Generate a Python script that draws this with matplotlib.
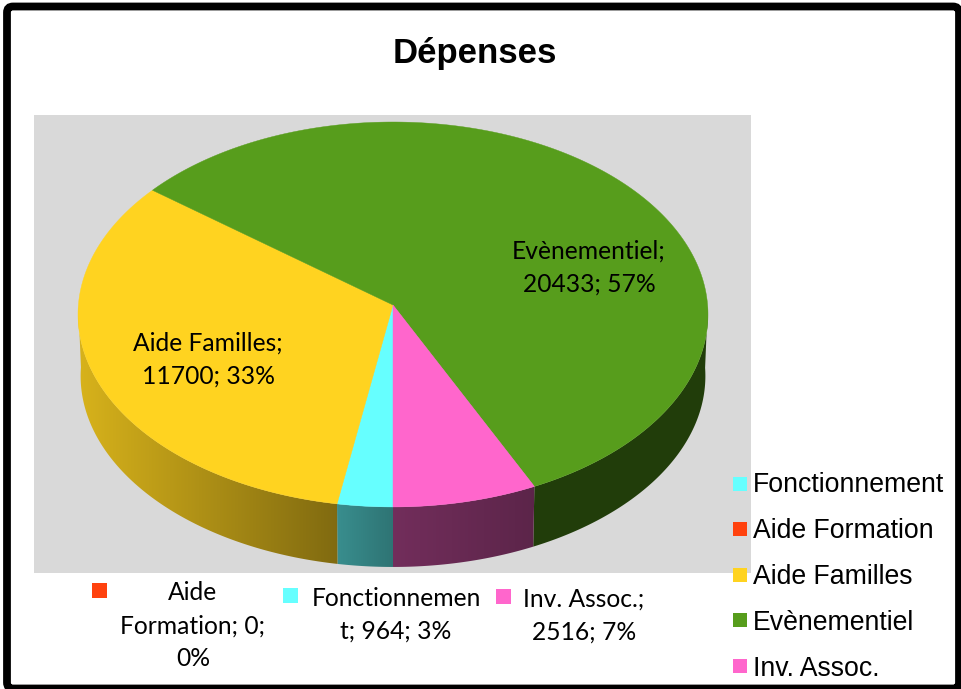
import numpy as np
import matplotlib
matplotlib.use("Agg")
import matplotlib.pyplot as plt
from matplotlib.patches import FancyBboxPatch, Rectangle, Polygon

categories = ["Fonctionnement", "Aide Formation", "Aide Familles", "Evènementiel", "Inv. Assoc."]
values = [964, 0, 11700, 20433, 2516]
colors = ["#66FFFF", "#FF420E", "#FFD320", "#579D1C", "#FF66CC"]
title = "Dépenses"

W, H = 961, 689
fig = plt.figure(figsize=(W / 100, H / 100), dpi=100)
ax = fig.add_axes([0, 0, 1, 1])

ax.add_patch(Rectangle((34, 115), 717, 458, fc="#D9D9D9", ec="none", zorder=0))
ax.add_patch(FancyBboxPatch((7, 6.5), 952, 682, boxstyle="round,pad=0,rounding_size=6",
                            fc="none", ec="black", lw=5.6, zorder=6))

# perspective projection of the pie (pixels)
KP = 0.0492
CX, CY = 393, 305


def top(t):
    d = 1 + KP * np.cos(t)
    return CX + 314.6 * np.sin(t) / d, CY - 192 * np.cos(t) / d


def bot(t):
    d = 1 + KP * np.cos(t)
    return CX + 312 * np.sin(t) / d, 366.6 - 190.5 * np.cos(t) / d


total = sum(values)
# slices run clockwise from 6 o'clock
angles = np.pi + 2 * np.pi * np.cumsum([0] + values) / total

# side-wall shade of each slice: factor at x start and x end
shade = {0: (0.56, 0.45), 2: (0.85, 0.50), 3: (0.39, 0.39), 4: (0.45, 0.36)}
shade_x = {0: (338, 393), 2: (78, 338), 3: (533, 708), 4: (393, 533)}

# side walls
for i, (a0, a1) in enumerate(zip(angles[:-1], angles[1:])):
    if a1 <= a0:
        continue
    ts = np.linspace(a0, a1, 400)
    m = np.mod(ts, 2 * np.pi)
    ts = ts[(m >= np.pi / 2) & (m <= 3 * np.pi / 2)]
    if len(ts) < 2:
        continue
    xt, yt = top(ts)
    xb, yb = bot(ts)
    outline = np.c_[np.r_[xt, xb[::-1]], np.r_[yt, yb[::-1]]]
    x0, x1 = shade_x[i]
    grad = np.linspace(shade[i][0], shade[i][1], 256)
    base = np.array(matplotlib.colors.to_rgb(colors[i]))
    img = (grad[:, None] * base)[None, :, :]
    im = ax.imshow(img, extent=(x0 - 3, x1 + 3, 580, 300), aspect="auto",
                   interpolation="bilinear", zorder=2)
    im.set_clip_path(Polygon(outline, closed=True, transform=ax.transData))

# top faces
for i, (a0, a1) in enumerate(zip(angles[:-1], angles[1:])):
    if a1 <= a0:
        continue
    ts = np.linspace(a0, a1, 300)
    xs, ys = top(ts)
    ax.fill(np.r_[CX, xs], np.r_[CY, ys], color=colors[i], lw=0.3, zorder=3)

ax.set_xlim(0, W)
ax.set_ylim(H, 0)
ax.axis("off")

# chart legend
LEG = "Liberation Sans"
leg_y = [484, 529, 575, 620, 666]
leg_text_y = [485, 531, 577, 623, 669]
for name, col, y, ty in zip(categories, colors, leg_y, leg_text_y):
    ax.add_patch(Rectangle((733, y - 7), 14, 14, fc=col, ec="none", zorder=4))
    ax.text(753, ty, name, family=LEG, fontsize=19.2, va="center", ha="left", color="black", zorder=5)

ax.text(475, 53.5, title, family=LEG, fontsize=25, fontweight="bold", ha="center", va="center", zorder=5)

# data labels
LAB = "Lato"
FS = 17.7
labels = [
    ("Evènementiel;", 589, 251), ("20433; 57%", 589, 284),
    ("Aide Familles;", 208, 343), ("11700; 33%", 208, 376),
    ("Aide", 193, 593), ("Formation; 0;", 193, 626), ("0%", 193, 659),
    ("Fonctionnemen", 396, 598), ("t; 964; 3%", 396, 631),
    ("Inv. Assoc.;", 584, 599), ("2516; 7%", 584, 632),
]
for s, x, y in labels:
    ax.text(x, y, s, family=LAB, fontsize=FS, ha="center", va="center", color="black", zorder=5)

for col, x, y in [(colors[1], 92, 583), (colors[0], 283, 588), (colors[4], 496, 589)]:
    ax.add_patch(Rectangle((x, y), 15, 15, fc=col, ec="none", zorder=4))

fig.savefig("out.png", dpi=100, facecolor="white")
